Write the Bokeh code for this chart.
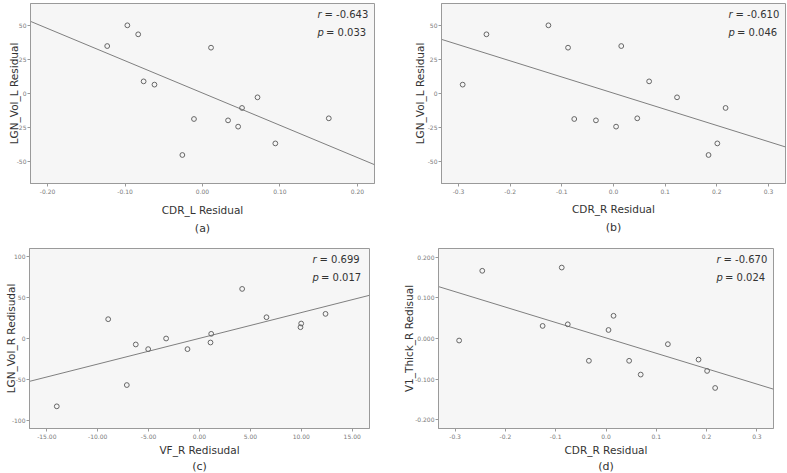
from bokeh.plotting import figure
from bokeh.layouts import column, row
from bokeh.models import Range1d, FixedTicker, NumeralTickFormatter, Label, Title
from bokeh.embed import file_html
from bokeh.resources import INLINE

# ---------------- data ----------------
# (a) CDR_L residual vs LGN_Vol_L residual
a_x = [-0.123, -0.097, -0.083, -0.076, -0.062, 0.011, -0.011, -0.026, 0.033, 0.046, 0.051, 0.071, 0.094, 0.163]
a_y = [34.8, 50.0, 43.4, 8.9, 6.5, 33.6, -18.7, -45.1, -19.7, -24.3, -10.6, -2.8, -36.6, -18.2]
a_fit_x = [-0.222, 0.222]
a_fit_y = [52.9, -52.2]

# (b) CDR_R residual vs LGN_Vol_L residual
b_x = [-0.292, -0.246, -0.126, -0.088, -0.076, -0.034, 0.005, 0.015, 0.046, 0.069, 0.123, 0.184, 0.201, 0.217]
b_y = [6.5, 43.4, 50.0, 33.6, -18.7, -19.7, -24.3, 34.8, -18.2, 8.9, -2.8, -45.1, -36.6, -10.6]
b_fit_x = [-0.333, 0.333]
b_fit_y = [39.7, -39.2]

# (c) VF_R residual vs LGN_Vol_R residual
c_x = [-14.02, -8.97, -7.14, -6.26, -5.04, -3.28, -1.18, 1.08, 1.15, 4.19, 6.58, 9.92, 9.99, 12.38]
c_y = [-82.9, 23.6, -56.9, -7.3, -13.0, 0.0, -13.0, -4.9, 5.7, 60.6, 26.0, 13.8, 18.3, 30.1]
c_fit_x = [-16.7, 16.7]
c_fit_y = [-52.4, 52.8]

# (d) CDR_R residual vs V1_Thick_R residual
d_x = [-0.292, -0.246, -0.126, -0.088, -0.076, -0.034, 0.005, 0.015, 0.046, 0.069, 0.123, 0.184, 0.201, 0.217]
d_y = [-0.005, 0.167, 0.031, 0.175, 0.035, -0.055, 0.021, 0.056, -0.055, -0.089, -0.014, -0.052, -0.080, -0.122]
d_fit_x = [-0.333, 0.333]
d_fit_y = [0.128, -0.125]

# tick labels
a_xticks = [-0.20, -0.10, 0.00, 0.10, 0.20]
a_yticks = [-50, -25, 0, 25, 50]
b_xticks = [-0.3, -0.2, -0.1, 0.0, 0.1, 0.2, 0.3]
b_yticks = [-50, -25, 0, 25, 50]
c_xticks = [-15.0, -10.0, -5.0, 0.0, 5.0, 10.0, 15.0]
c_yticks = [-100, -50, 0, 50, 100]
d_xticks = [-0.3, -0.2, -0.1, 0.0, 0.1, 0.2, 0.3]
d_yticks = [-0.2, -0.1, 0.0, 0.1, 0.2]

stats = {
    "a": ("-0.643", "0.033"),
    "b": ("-0.610", "0.046"),
    "c": ("0.699", "0.017"),
    "d": ("-0.670", "0.024"),
}

FONT = "DejaVu Sans"
DARK = "#333333"


def panel(x, y, fx, fy, xr, yr, xt, yt, xfmt, yfmt, xlabel, ylabel, caption, stat,
          fw, fh, mbl, mbr, mbt, mbb, yls, xls, cap_standoff):
    p = figure(frame_width=fw, frame_height=fh,
               x_range=Range1d(*xr), y_range=Range1d(*yr),
               output_backend="svg", toolbar_location=None,
               min_border_left=mbl, min_border_right=mbr,
               min_border_top=mbt, min_border_bottom=mbb)
    p.background_fill_color = "#f6f6f6"
    p.border_fill_color = "white"
    p.outline_line_color = "#9a9a9a"
    p.outline_line_width = 1
    p.grid.visible = False

    for ax in (p.xaxis[0], p.yaxis[0]):
        ax.major_tick_out = 3
        ax.major_tick_in = 0
        ax.minor_tick_out = 0
        ax.minor_tick_in = 0
        ax.axis_line_color = "#9a9a9a"
        ax.major_tick_line_color = "#9a9a9a"
        ax.major_label_text_font = FONT
        ax.major_label_text_font_size = "6px"
        ax.major_label_text_color = "#7a7a7a"
        ax.axis_label_text_font = FONT
        ax.axis_label_text_font_size = "10.5px"
        ax.axis_label_text_font_style = "normal"
        ax.axis_label_text_color = DARK

    p.xaxis.major_label_standoff = 2
    p.yaxis.major_label_standoff = 1
    p.xaxis.ticker = FixedTicker(ticks=xt)
    p.yaxis.ticker = FixedTicker(ticks=yt)
    p.xaxis.formatter = NumeralTickFormatter(format=xfmt)
    p.yaxis.formatter = NumeralTickFormatter(format=yfmt)
    p.xaxis.axis_label = xlabel
    p.yaxis.axis_label = ylabel
    p.xaxis.axis_label_standoff = xls
    p.yaxis.axis_label_standoff = yls

    p.line(fx, fy, line_color="#7f7f7f", line_width=1)
    p.scatter(x, y, marker="circle", size=4.8, fill_color=None,
              line_color="#666666", line_width=1)

    rv, pv = stat
    common = dict(x=xr[1], y=yr[1], text_font=FONT, text_font_size="10px",
                  text_color=DARK, text_baseline="middle", text_align="left")
    p.add_layout(Label(text="r", x_offset=-57, y_offset=-11, text_font_style="italic", **common))
    p.add_layout(Label(text="= " + rv, x_offset=-50, y_offset=-11, **common))
    p.add_layout(Label(text="p", x_offset=-57, y_offset=-29, text_font_style="italic", **common))
    p.add_layout(Label(text="= " + pv, x_offset=-48.5, y_offset=-29, **common))

    t = Title(text=caption, align="center", text_font=FONT, text_font_size="11px",
              text_font_style="normal", text_color=DARK, standoff=cap_standoff)
    p.add_layout(t, "below")
    return p


pa = panel(a_x, a_y, a_fit_x, a_fit_y, (-0.222, 0.222), (-66, 66), a_xticks, a_yticks,
           "0.00", "0", "CDR_L Residual", "LGN_Vol_L Residual", "(a)", stats["a"],
           344, 180, 30, 33, 3, 62, -6, 7, 3)
pb = panel(b_x, b_y, b_fit_x, b_fit_y, (-0.333, 0.333), (-66, 66), b_xticks, b_yticks,
           "0.0", "0", "CDR_R Residual", "LGN_Vol_L Residual", "(b)", stats["b"],
           344, 180, 34, 1, 3, 62, -1, 6, 3)
pc = panel(c_x, c_y, c_fit_x, c_fit_y, (-16.7, 16.7), (-110, 110), c_xticks, c_yticks,
           "0.00", "0", "VF_R Redisudal", "LGN_Vol_R Redisudal", "(c)", stats["c"],
           340, 180, 29, 28, 3, 40, -8, 2, -1)
pd_ = panel(d_x, d_y, d_fit_x, d_fit_y, (-0.333, 0.333), (-0.222, 0.222), d_xticks, d_yticks,
            "0.0", "0.000", "CDR_R Residual", "V1_Thick_R Redisual", "(d)", stats["d"],
            335, 180, 41, 13, 3, 40, -3, 2, -1)

layout = column(row(pa, pb), row(pc, pd_))

open("out.html", "w").write(file_html(layout, INLINE))
